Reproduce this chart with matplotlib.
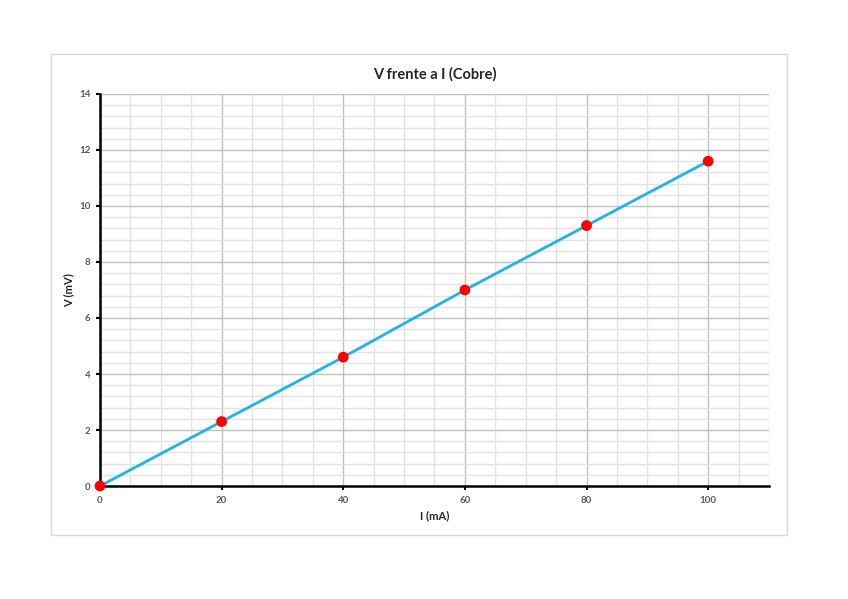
import matplotlib
matplotlib.use("Agg")
import matplotlib.pyplot as plt
from matplotlib.patches import Rectangle
from matplotlib.ticker import MultipleLocator

current_mA = [0, 20, 40, 60, 80, 100]
voltage_mV = [0, 2.3, 4.6, 7.0, 9.3, 11.6]

plt.rcParams['font.family'] = ['Lato', 'DejaVu Sans']

fig = plt.figure(figsize=(8.48, 5.99), dpi=100)
fig.patch.set_facecolor('white')
# chart border
fig.add_artist(Rectangle((51/848, 1-535/599), (787-51)/848, (535-54)/599,
                         transform=fig.transFigure, fill=False,
                         edgecolor='#d9d9d9', linewidth=1))

ax = fig.add_axes([100/848, 1-486/599, 669/848, 392/599])
ax.set_xlim(0, 110)
ax.set_ylim(0, 14)
ax.xaxis.set_major_locator(MultipleLocator(20))
ax.xaxis.set_minor_locator(MultipleLocator(5))
ax.yaxis.set_major_locator(MultipleLocator(2))
ax.yaxis.set_minor_locator(MultipleLocator(0.4))
ax.grid(which='minor', color='#e3e3e3', linewidth=1)
ax.grid(which='major', color='#c0c0c0', linewidth=1)
ax.set_axisbelow(True)

ax.plot(current_mA, voltage_mV, color='#1fb4e8', linewidth=2, zorder=3)
ax.scatter(current_mA, voltage_mV, color='#ff0000', s=60, zorder=4,
           edgecolors='none', clip_on=False)

for s in ['top', 'right']:
    ax.spines[s].set_visible(False)
for s in ['left', 'bottom']:
    ax.spines[s].set_linewidth(1.8)
    ax.spines[s].set_color('black')

ax.tick_params(which='major', direction='out', length=3, width=1.5, color='black',
               labelsize=7, labelcolor='#595959', pad=4)
ax.tick_params(which='minor', length=0)

ax.set_xticks([0, 20, 40, 60, 80, 100])
ax.set_xticklabels(['0', '20', '40', '60', '80', '100'], fontweight='bold')
ax.set_yticks([0, 2, 4, 6, 8, 10, 12, 14])
ax.set_yticklabels(['0', '2', '4', '6', '8', '10', '12', '14'], fontweight='bold')

ax.set_xlabel('I (mA)', fontsize=8, fontweight='bold', color='#262626', labelpad=4)
ax.set_ylabel('V (mV)', fontsize=8, fontweight='bold', color='#262626', labelpad=3)
ax.set_title('V frente a I (Cobre)', fontsize=10.5, fontweight='bold', color='#262626', pad=11)

fig.savefig('out.png', dpi=100)
